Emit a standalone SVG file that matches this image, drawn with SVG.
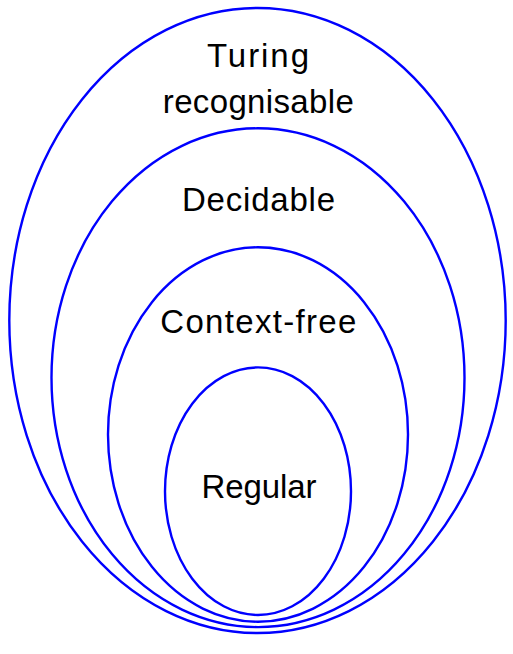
<svg xmlns="http://www.w3.org/2000/svg" width="513" height="654" viewBox="0 0 513 654">
<style>
.set{fill:none;stroke:#0000ff;stroke-width:2.4}
.lbl{font-family:"Liberation Sans",Arial,sans-serif;font-size:33px;fill:#000;text-anchor:middle}
</style>
<rect width="513" height="654" fill="#fff"/>
<g id="turing"><ellipse class="set" cx="257.5" cy="320.5" rx="248.2" ry="312.5"/>
<text class="lbl" x="258" y="66.5" textLength="102" lengthAdjust="spacing">Turing</text>
<text class="lbl" x="258.3" y="113" textLength="191" lengthAdjust="spacing">recognisable</text></g>
<g id="decidable"><ellipse class="set" cx="258" cy="377.7" rx="206.5" ry="249.4"/>
<text class="lbl" x="258.5" y="211" textLength="153" lengthAdjust="spacing">Decidable</text></g>
<g id="contextfree"><ellipse class="set" cx="258" cy="434.5" rx="150" ry="187.2"/>
<text class="lbl" x="258.3" y="333" textLength="196" lengthAdjust="spacing">Context-free</text></g>
<g id="regular"><ellipse class="set" cx="258" cy="491.2" rx="93" ry="123.8"/>
<text class="lbl" x="259" y="498" textLength="115" lengthAdjust="spacing">Regular</text></g>
<g id="connectors"/>
</svg>
